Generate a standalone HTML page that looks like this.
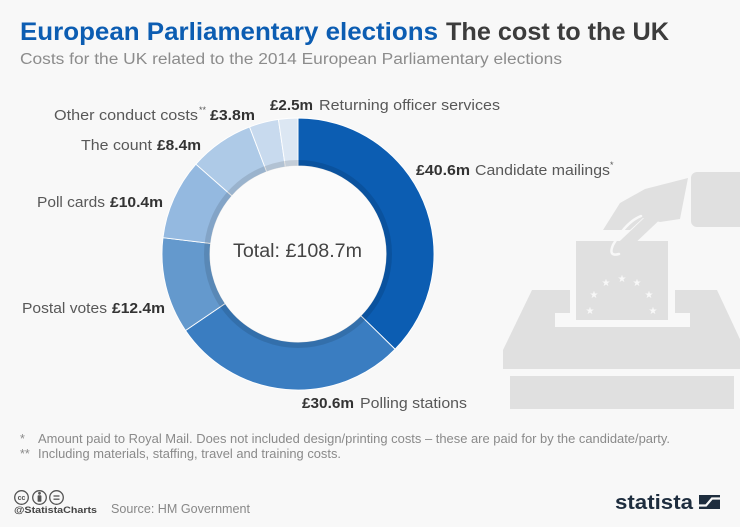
<!DOCTYPE html>
<html><head><meta charset="utf-8"><style>
html,body{margin:0;padding:0;background:#f8f8f8;}
svg{display:block;}
text{font-family:"Liberation Sans",Arial,sans-serif;}
</style></head><body>
<svg width="740" height="527" viewBox="0 0 740 527" xmlns="http://www.w3.org/2000/svg">
<rect x="0" y="0" width="740" height="527" fill="#f8f8f8"/>

<!-- Title -->
<text x="20" y="40" font-size="25" font-weight="bold" fill="#0c5db2" textLength="418" lengthAdjust="spacingAndGlyphs">European Parliamentary elections</text>
<text x="446" y="40" font-size="25" font-weight="bold" fill="#3c3c3c" textLength="223" lengthAdjust="spacingAndGlyphs">The cost to the UK</text>
<text x="20" y="64" font-size="15.5" fill="#8c8c8c" textLength="542" lengthAdjust="spacingAndGlyphs">Costs for the UK related to the 2014 European Parliamentary elections</text>

<!-- Ballot icon -->
<g fill="#e0e0e0">
  <rect x="510" y="376" width="224" height="33"/>
  <polygon points="532,290 717,290 745,350 745,369 503,369 503,350"/>
</g>
<rect x="570" y="289" width="105" height="25" fill="#f8f8f8"/>
<rect x="555" y="313" width="135" height="14" fill="#f8f8f8"/>
<rect x="576" y="241" width="92" height="79" fill="#e0e0e0"/>
<g fill="#f8f8f8" font-size="10" text-anchor="middle">
  <text x="606" y="286">★</text>
  <text x="622" y="282">★</text>
  <text x="637" y="286">★</text>
  <text x="594" y="298">★</text>
  <text x="649" y="298">★</text>
  <text x="590" y="314">★</text>
  <text x="653" y="314">★</text>
</g>
<rect x="691" y="172" width="55" height="55" rx="6" fill="#e0e0e0"/>
<polygon points="688,178 645,189 620,203 603,230 630,230 643,218 660,222 680,219" fill="#e0e0e0"/>
<line x1="655" y1="216" x2="617" y2="252" stroke="#e0e0e0" stroke-width="12" stroke-linecap="round"/>
<path d="M641,216 Q626,222 613,245 Q608,257 619,254" fill="none" stroke="#f8f8f8" stroke-width="2.5" stroke-linecap="round"/>

<!-- Donut -->
<g stroke="#ffffff" stroke-width="0.9" stroke-linejoin="round">
  <path d="M298,118 A136,136 0 0 1 395.08,349.25 L360.81,315.64 A88,88 0 0 0 298,166 Z" fill="#0c5db2"/>
  <path d="M395.08,349.25 A136,136 0 0 1 185.51,330.45 L225.22,303.46 A88,88 0 0 0 360.81,315.64 Z" fill="#3a7dc1"/>
  <path d="M185.51,330.45 A136,136 0 0 1 162.98,237.73 L210.63,243.47 A88,88 0 0 0 225.22,303.46 Z" fill="#6499cd"/>
  <path d="M162.98,237.73 A136,136 0 0 1 195.88,164.19 L231.92,195.88 A88,88 0 0 0 210.63,243.47 Z" fill="#94b9e0"/>
  <path d="M195.88,164.19 A136,136 0 0 1 249.56,126.92 L266.65,171.77 A88,88 0 0 0 231.92,195.88 Z" fill="#aecae7"/>
  <path d="M249.56,126.92 A136,136 0 0 1 278.42,119.42 L285.33,166.92 A88,88 0 0 0 266.65,171.77 Z" fill="#c8daee"/>
  <path d="M278.42,119.42 A136,136 0 0 1 298,118 L298,166 A88,88 0 0 0 285.33,166.92 Z" fill="#dce7f3"/>
</g>
<circle cx="298" cy="254" r="91" fill="none" stroke="rgba(0,0,0,0.11)" stroke-width="6"/>
<circle cx="298" cy="254" r="88" fill="#fbfbfb"/>

<text x="233" y="257" font-size="19" fill="#444" textLength="129" lengthAdjust="spacingAndGlyphs">Total: £108.7m</text>

<!-- Labels -->
<g font-size="15" fill="#585858">
  <text x="270" y="110" font-weight="bold" fill="#333" textLength="43" lengthAdjust="spacingAndGlyphs">£2.5m</text>
  <text x="319" y="110" textLength="181" lengthAdjust="spacingAndGlyphs">Returning officer services</text>

  <text x="54" y="120" textLength="144" lengthAdjust="spacingAndGlyphs">Other conduct costs</text>
  <text x="199" y="113" font-size="9">**</text>
  <text x="210" y="120" font-weight="bold" fill="#333" textLength="45" lengthAdjust="spacingAndGlyphs">£3.8m</text>

  <text x="81" y="150" textLength="71" lengthAdjust="spacingAndGlyphs">The count</text>
  <text x="157" y="150" font-weight="bold" fill="#333" textLength="44" lengthAdjust="spacingAndGlyphs">£8.4m</text>

  <text x="37" y="207" textLength="68" lengthAdjust="spacingAndGlyphs">Poll cards</text>
  <text x="110" y="207" font-weight="bold" fill="#333" textLength="53" lengthAdjust="spacingAndGlyphs">£10.4m</text>

  <text x="22" y="313" textLength="85" lengthAdjust="spacingAndGlyphs">Postal votes</text>
  <text x="112" y="313" font-weight="bold" fill="#333" textLength="53" lengthAdjust="spacingAndGlyphs">£12.4m</text>

  <text x="416" y="175" font-weight="bold" fill="#333" textLength="54" lengthAdjust="spacingAndGlyphs">£40.6m</text>
  <text x="475" y="175" textLength="135" lengthAdjust="spacingAndGlyphs">Candidate mailings</text>
  <text x="610" y="168" font-size="9">*</text>

  <text x="302" y="408" font-weight="bold" fill="#333" textLength="52" lengthAdjust="spacingAndGlyphs">£30.6m</text>
  <text x="360" y="408" textLength="107" lengthAdjust="spacingAndGlyphs">Polling stations</text>
</g>

<!-- Footnotes -->
<g font-size="12.5" fill="#8a8a8a">
  <text x="20" y="443">*</text>
  <text x="38" y="443" textLength="632" lengthAdjust="spacingAndGlyphs">Amount paid to Royal Mail. Does not included design/printing costs – these are paid for by the candidate/party.</text>
  <text x="20" y="458">**</text>
  <text x="38" y="458" textLength="303" lengthAdjust="spacingAndGlyphs">Including materials, staffing, travel and training costs.</text>
</g>

<!-- CC icons -->
<g fill="none" stroke="#555" stroke-width="1.3">
  <circle cx="21.5" cy="497.5" r="6.8"/>
  <circle cx="39.5" cy="497.5" r="6.8"/>
  <circle cx="56.5" cy="497.5" r="6.8"/>
  <line x1="53.5" y1="496" x2="59.5" y2="496"/>
  <line x1="53.5" y1="499.2" x2="59.5" y2="499.2"/>
</g>
<text x="21.5" y="500" font-size="7" font-weight="bold" fill="#555" text-anchor="middle">cc</text>
<circle cx="39.5" cy="493.3" r="1.4" fill="#555"/>
<rect x="37.6" y="495.3" width="3.8" height="6.5" rx="0.8" fill="#555"/>
<text x="14" y="513" font-size="9" font-weight="bold" fill="#444" textLength="83" lengthAdjust="spacingAndGlyphs">@StatistaCharts</text>
<text x="111" y="513" font-size="13" fill="#888" textLength="139" lengthAdjust="spacingAndGlyphs">Source: HM Government</text>

<!-- Statista logo -->
<text x="615" y="509" font-size="20" font-weight="bold" fill="#1e2d3e" textLength="78" lengthAdjust="spacingAndGlyphs">statista</text>
<rect x="699" y="495" width="21" height="14" fill="#1e2d3e"/>
<path d="M699,505.5 L706,505.5 L712,498.5 L720,498.5" fill="none" stroke="#f8f8f8" stroke-width="2.2"/>
</svg>
</body></html>
